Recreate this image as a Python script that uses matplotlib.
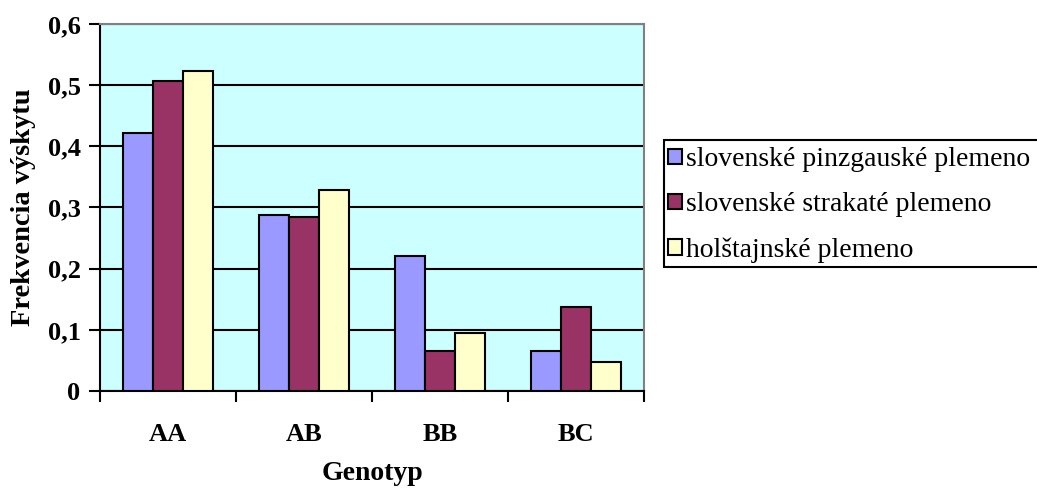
import matplotlib
matplotlib.use("Agg")
import matplotlib.pyplot as plt
from matplotlib.patches import Rectangle
import numpy as np

plt.rcParams["font.family"] = ["Liberation Serif", "DejaVu Serif"]

genotypes = ["AA", "AB", "BB", "BC"]
pinzgauske = [0.421, 0.288, 0.220, 0.066]
strakate = [0.507, 0.285, 0.065, 0.138]
holstajnske = [0.523, 0.329, 0.095, 0.047]
series_names = ["slovenské pinzgauské plemeno",
                "slovenské strakaté plemeno",
                "holštajnské plemeno"]
y_ticks = [0, 0.1, 0.2, 0.3, 0.4, 0.5, 0.6]
y_labels = ["0", "0,1", "0,2", "0,3", "0,4", "0,5", "0,6"]

colors = ["#9999FF", "#993366", "#FFFFCC"]

fig = plt.figure(figsize=(10.37, 4.94), dpi=100)
ax = fig.add_axes([100 / 1037, 1 - 391 / 494, 544 / 1037, 367 / 494])
ax.set_facecolor("#CCFFFF")

x = np.arange(len(genotypes))
w = 0.223
for i, (vals, col, name) in enumerate(zip([pinzgauske, strakate, holstajnske], colors, series_names)):
    ax.bar(x + (i - 1) * w, vals, w, color=col, edgecolor="black",
           linewidth=1.5, label=name, zorder=3)

ax.set_xlim(-0.5, len(genotypes) - 0.5)
ax.set_ylim(0, 0.6)
ax.set_yticks(y_ticks)
ax.set_yticklabels(y_labels, fontsize=19, fontweight="bold")
ax.yaxis.grid(True, color="black", linewidth=1.5, zorder=1)
ax.set_axisbelow(True)

# category labels centered, tick marks between categories
ax.set_xticks(x)
ax.set_xticklabels(genotypes, fontsize=19, fontweight="bold")
ax.tick_params(axis="x", length=0, pad=23)
ax.set_xticks(np.arange(-0.5, len(genotypes)), minor=True)
ax.tick_params(axis="x", which="minor", length=8, width=1.5, direction="out")
ax.tick_params(axis="y", length=8, width=1.5, direction="out", pad=6)

for s in ["left", "bottom"]:
    ax.spines[s].set_linewidth(1.5)
    ax.spines[s].set_color("black")
for s in ["top", "right"]:
    ax.spines[s].set_linewidth(1.5)
    ax.spines[s].set_color("#808080")

ax.set_xlabel("Genotyp", fontsize=20, fontweight="bold", labelpad=11)
ax.set_ylabel("Frekvencia výskytu", fontsize=20.5, fontweight="bold", labelpad=8)

# legend box runs off the right edge of the figure
fig.patches.append(Rectangle((664 / 1037, 1 - 267 / 494), 400 / 1037, 127 / 494,
                             transform=fig.transFigure, facecolor="white",
                             edgecolor="black", linewidth=1.5, zorder=0))
leg = fig.legend(loc="lower left", bbox_to_anchor=(664 / 1037, 1 - 267 / 494),
                 fontsize=20, frameon=False,
                 handlelength=0.5, handleheight=0.5, handletextpad=0.15,
                 borderpad=0.15, labelspacing=0.72, borderaxespad=0)
for h in leg.legend_handles:
    h.set_linewidth(1.5)

fig.savefig("out.png", dpi=100)
